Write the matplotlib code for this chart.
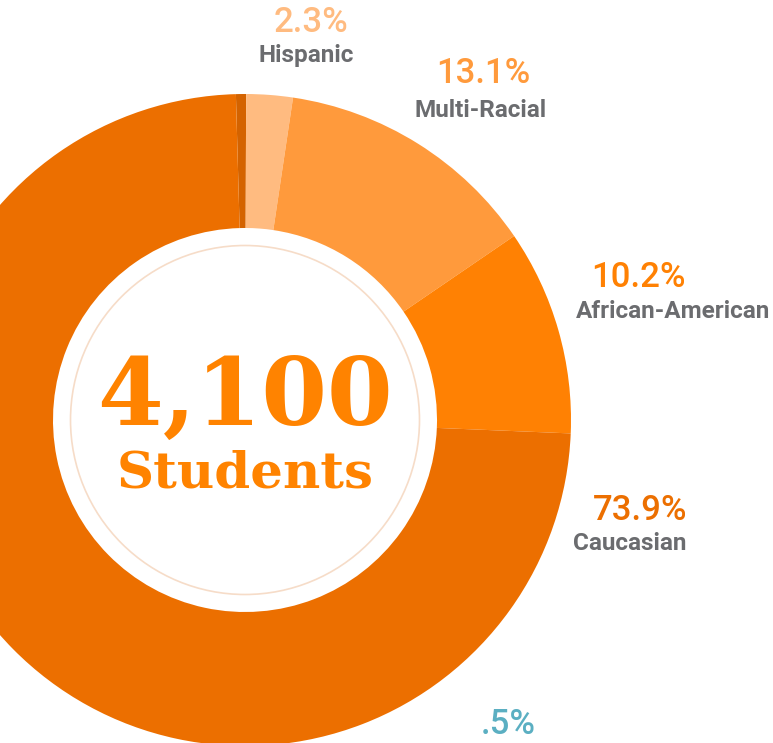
import matplotlib
matplotlib.use("Agg")
import matplotlib.pyplot as plt
from matplotlib.patches import Circle

# Student enrolment by ethnicity (share of 4,100 students)
groups = ["Other", "Hispanic", "Multi-Racial", "African-American", "Caucasian"]
shares = [0.5, 2.3, 13.1, 10.2, 73.9]
pct_labels = [".5%", "2.3%", "13.1%", "10.2%", "73.9%"]
colors = ["#D46300", "#FFBB80", "#FF9A3C", "#FF8103", "#EC6F00"]
pct_colors = ["#5BAFC2", "#FFBB80", "#FF9A3C", "#FF8103", "#EC6F00"]
total_text = "4,100"
total_sub = "Students"

W, H = 773, 743
fig = plt.figure(figsize=(W / 100, H / 100), dpi=100)
ax = fig.add_axes([0, 0, 1, 1])

cx, cy = 245, H - 420
r_out, r_in = 326, 192

ax.pie(shares, colors=colors, startangle=91.6, counterclock=False,
       center=(cx, cy), radius=r_out,
       wedgeprops=dict(width=r_out - r_in, linewidth=0))

# thin decorative ring inside the hole
ax.add_patch(Circle((cx, cy), 174.5, fill=False, edgecolor="#F6DCC8", linewidth=1.2))

ax.set_xlim(0, W)
ax.set_ylim(0, H)
ax.set_aspect("equal")
ax.axis("off")

# label anchors (x centre, baseline of % and baseline of name), px from top
label_pos = {
    "Other": (508, 734, None),
    "Hispanic": (311, 32, 62),
    "Multi-Racial": (483, 83, 117),
    "African-American": (638, 287, 318),
    "Caucasian": (640, 520, 550),
}
name_x = {"Hispanic": 306, "Multi-Racial": 481, "African-American": 673, "Caucasian": 630}

for g, p, c in zip(groups, pct_labels, pct_colors):
    x, yb, yn = label_pos[g]
    ax.text(x, H - yb, p, color=c, fontsize=25, family="Roboto", weight="medium",
            ha="center", va="baseline")
    if yn is not None:
        ax.text(name_x[g], H - yn, g, color="#6B6C6F", fontsize=17.5, family="Roboto",
                weight="bold", ha="center", va="baseline")

ax.text(cx, H - 425, total_text, color="#FF8300", fontsize=68, family="DejaVu Serif",
        weight="bold", ha="center", va="baseline")
ax.text(cx, H - 488, total_sub, color="#FF8300", fontsize=37, family="DejaVu Serif",
        weight="bold", ha="center", va="baseline")

fig.savefig("out.png", dpi=100, facecolor="white")
